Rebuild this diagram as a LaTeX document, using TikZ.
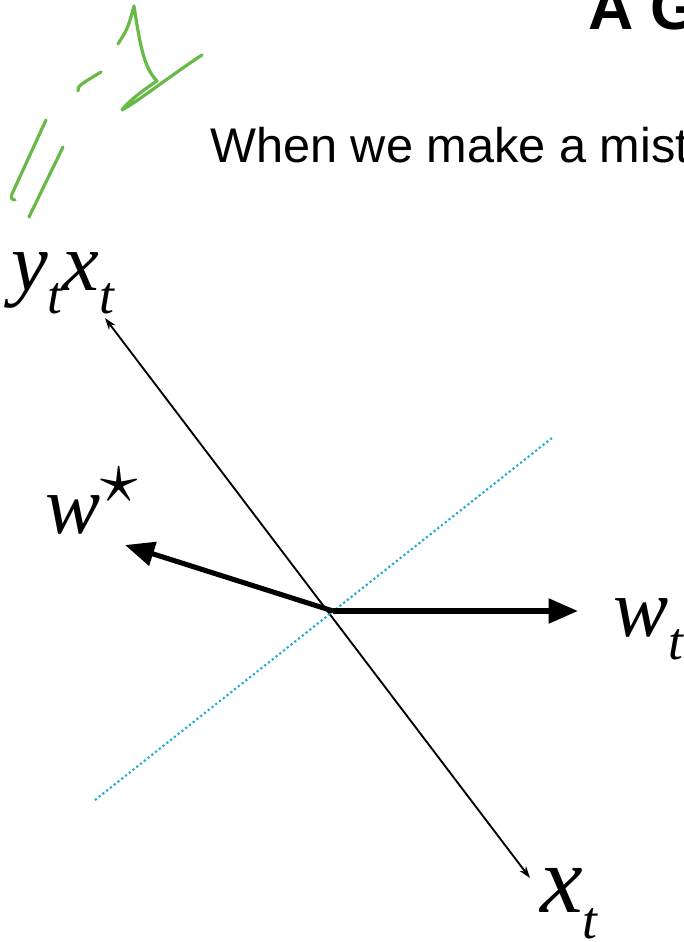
\documentclass[tikz,border=0pt]{standalone}
\usepackage{fontspec}
\setmainfont{Liberation Sans}
\newfontfamily\tms{Liberation Serif}
\usetikzlibrary{arrows.meta}
\definecolor{pen}{RGB}{104,186,72}
\definecolor{sky}{RGB}{30,172,212}
% italic letter with lowered subscript
\newcommand{\vlab}[2]{{\tms\itshape #1\raisebox{-0.28em}{\fontsize{40}{40}\selectfont #2}}}
\begin{document}
\begin{tikzpicture}[x=0.75pt,y=-0.75pt,
    thin/.style={line width=1.4pt,{Stealth[length=9pt,width=6pt]}-{Stealth[length=9pt,width=6pt]}},
    vec/.style={line width=3.8pt,-{Triangle[length=22pt,width=18pt]}},
    lab/.style={inner sep=0pt,anchor=base west,font=\fontsize{62}{62}\selectfont},
    ink/.style={pen,line width=2.4pt,line cap=round,line join=round}]
    \useasboundingbox (0,0) rectangle (683,942);
    \clip (0,0) rectangle (683,942);
    % heading and text line
    \node[inner sep=0pt,anchor=base west,font=\fontsize{47}{47}\selectfont\bfseries] (head) at (588,30) {A G};
    \node[inner sep=0pt,anchor=base west,font=\fontsize{36.5}{36.5}\selectfont] (txt) at (210,162) {When we make a mist};
    % hand scribble
    \draw[ink] (118,44) .. controls (128,28) .. (134,6) .. controls (140,45) and (144,68) .. (157,81)
        .. controls (140,92) and (126,104) .. (122,110) .. controls (140,100) and (170,76) .. (202,55);
    \draw[ink] (78,91) .. controls (78,86) .. (101,72);
    \draw[ink] (46,120) -- (12,194) .. controls (11,199) .. (15,200);
    \draw[ink] (63,147) -- (29,217);
    % axes
    \coordinate (O) at (333,611);
    \coordinate (up) at (105,318);
    \coordinate (down) at (530,878);
    \draw[thin] (up) -- (down);
    \draw[sky,line width=1.6pt,dotted] (95,800) -- (552,438);
    \draw[vec] (O) -- (125,545) coordinate (ws);
    \draw[vec] (O) -- (578,611) coordinate (wt);
    % labels
    \node[lab] (yx) at (11,290) {\vlab{y}{t}\vlab{x}{t}};
    \node[lab] (wsl) at (45,533) {{\tms\itshape w}\raisebox{23pt}{\scalebox{5.6}{\normalsize$\star$}}};
    \node[lab] (wtl) at (613,636) {\vlab{w}{t}};
    \node[lab,font=\fontsize{72}{72}\selectfont] (xl) at (540,912) {\vlab{x}{t}};
\end{tikzpicture}
\end{document}
